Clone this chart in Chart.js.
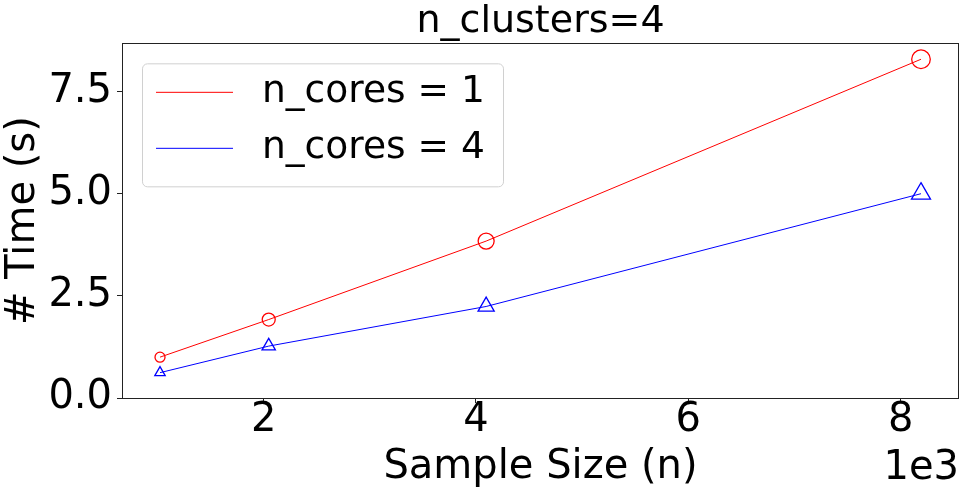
<!DOCTYPE html>
<html>
<head>
<meta charset="utf-8">
<script src="https://cdn.jsdelivr.net/npm/chart.js@4.4.1/dist/chart.umd.min.js"></script>
<style>
  html, body { margin: 0; padding: 0; background: #fff; }
</style>
</head>
<body>
<canvas id="myChart" width="964" height="496"></canvas>
<script>
// values
var sampleSizes = [1024, 2048, 4096, 8192];
var timeCores1 = [1.00, 1.92, 3.84, 8.29];
var timeCores4 = [0.62, 1.27, 2.24, 5.00];
var seriesLabels = ["n_cores = 1", "n_cores = 4"];
var xTicks = [2000, 4000, 6000, 8000];
var yTicks = [0, 2.5, 5.0, 7.5];

var FONT = "'DejaVu Sans', sans-serif";

function toPoints(ys) {
  return sampleSizes.map(function(x, i) { return {x: x, y: ys[i]}; });
}

// frame, legend box and the 1e3 offset text, like matplotlib draws them
var extras = {
  id: 'extras',
  afterDatasetsDraw: function(chart) {
    var ctx = chart.ctx;
    var a = chart.chartArea;
    ctx.save();

    // axes frame
    ctx.strokeStyle = '#222';
    ctx.lineWidth = 1;
    ctx.strokeRect(Math.round(a.left) + 0.5, Math.round(a.top) + 0.5,
                   Math.round(a.right - a.left) - 1, Math.round(a.bottom - a.top));

    // legend
    var lx = a.left + 20, ly = a.top + 20;
    ctx.beginPath();
    ctx.roundRect(lx + 0.5, ly + 0.5, 361, 123, 5);
    ctx.fillStyle = 'rgba(255,255,255,0.8)';
    ctx.fill();
    ctx.strokeStyle = '#d0d0d0';
    ctx.stroke();
    chart.data.datasets.forEach(function(ds, i) {
      var y = ly + 29 + i * 56;
      ctx.beginPath();
      ctx.moveTo(lx + 14, y);
      ctx.lineTo(lx + 91, y);
      ctx.strokeStyle = ds.borderColor;
      ctx.lineWidth = 1;
      ctx.stroke();
      ctx.fillStyle = '#000';
      ctx.font = '37.6px ' + FONT;
      ctx.textAlign = 'left';
      ctx.textBaseline = 'middle';
      ctx.fillText(ds.label, lx + 120, y);
    });

    // offset text
    ctx.font = '40px ' + FONT;
    ctx.textAlign = 'right';
    ctx.textBaseline = 'alphabetic';
    ctx.fillStyle = '#000';
    ctx.fillText('1e3', a.right, 479);
    ctx.restore();
  }
};

new Chart("myChart", {
  type: "line",
  data: {
    datasets: [{
      label: seriesLabels[0],
      data: toPoints(timeCores1),
      borderColor: "#ff0000",
      borderWidth: 1,
      pointStyle: "circle",
      pointRadius: [5, 6.5, 8, 9.3],
      pointBorderColor: "#ff0000",
      pointBackgroundColor: "rgba(0,0,0,0)",
      pointBorderWidth: 1.3,
      tension: 0
    }, {
      label: seriesLabels[1],
      data: toPoints(timeCores4),
      borderColor: "#0000ff",
      borderWidth: 1,
      pointStyle: "triangle",
      pointRadius: [6, 7.7, 9.3, 11],
      pointBorderColor: "#0000ff",
      pointBackgroundColor: "rgba(0,0,0,0)",
      pointBorderWidth: 1.3,
      tension: 0
    }]
  },
  options: {
    responsive: false,
    animation: false,
    devicePixelRatio: 1,
    layout: { autoPadding: false, padding: { top: 0, right: 5, bottom: 0, left: 0 } },
    plugins: {
      legend: { display: false },
      tooltip: { enabled: false },
      title: {
        display: true,
        fullSize: false,
        text: "n_clusters=4",
        color: "#000",
        font: { size: 38, family: FONT, weight: "normal", lineHeight: 1.14 },
        padding: { top: 0, bottom: 0 }
      }
    },
    scales: {
      x: {
        type: "linear",
        min: 666,
        max: 8550,
        afterBuildTicks: function(s) { s.ticks = xTicks.map(function(v) { return {value: v}; }); },
        afterFit: function(s) { s.height = 98; s.paddingLeft = 0; s.paddingRight = 0; },
        ticks: {
          callback: function(v) { return v / 1000; },
          color: "#000",
          font: { size: 40, family: FONT, lineHeight: 1 },
          padding: -2,
          maxRotation: 0,
          autoSkip: false
        },
        grid: { drawOnChartArea: false, drawTicks: true, tickLength: 5, color: "#222" },
        border: { display: false },
        title: {
          display: true,
          text: "Sample Size (n)",
          color: "#000",
          font: { size: 40, family: FONT },
          padding: { top: 0, bottom: 4 }
        }
      },
      y: {
        min: 0,
        max: 8.68,
        afterBuildTicks: function(s) { s.ticks = yTicks.map(function(v) { return {value: v}; }); },
        afterFit: function(s) { s.width = 122; s.paddingTop = 0; s.paddingBottom = 0; },
        ticks: {
          callback: function(v) { return v.toFixed(1); },
          color: "#000",
          font: { size: 40, family: FONT },
          padding: 5
        },
        grid: { drawOnChartArea: false, drawTicks: true, tickLength: 5, color: "#222" },
        border: { display: false },
        title: {
          display: true,
          text: "# Time (s)",
          color: "#000",
          font: { size: 40, family: FONT },
          padding: { top: 0, bottom: 0 }
        }
      }
    }
  },
  plugins: [extras]
});
</script>
</body>
</html>
